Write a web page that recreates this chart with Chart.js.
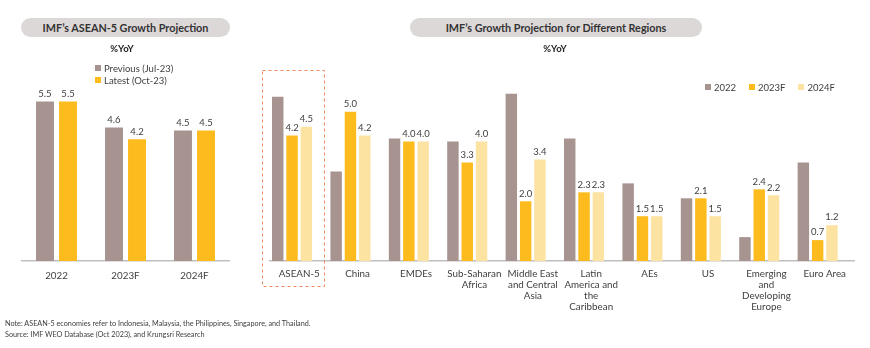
<!DOCTYPE html>
<html><head><meta charset="utf-8">
<script src="https://cdn.jsdelivr.net/npm/chart.js@4"></script>
<style>
html,body{margin:0;padding:0;background:#fff;}
body{width:870px;height:348px;position:relative;overflow:hidden;font-family:Lato,"Noto Sans",sans-serif;color:#404040;}
.pill{position:absolute;height:19px;line-height:19px;background:#DDD8D8;border-radius:10px;text-align:center;font-weight:bold;font-size:10.8px;color:#333;z-index:2;}
.unit{position:absolute;font-weight:bold;font-size:9.5px;color:#222;transform:translateX(-50%);z-index:2;}
.leg{position:absolute;font-size:9.5px;color:#404040;white-space:nowrap;z-index:2;}
.leg i{display:inline-block;width:6px;height:6px;margin-right:3px;vertical-align:1px;}
.note{position:absolute;left:5px;font-size:7.25px;color:#404040;white-space:nowrap;z-index:2;}
.cv{position:absolute;top:0;height:348px;z-index:1;}
</style></head>
<body>
<div class="pill" style="left:21px;top:18px;width:209px;">IMF’s ASEAN-5 Growth Projection</div>
<div class="unit" style="left:122px;top:43px;">%YoY</div>
<div class="pill" style="left:410px;top:18px;width:292px;">IMF’s Growth Projection for Different Regions</div>
<div class="unit" style="left:555px;top:43px;">%YoY</div>

<div class="leg" style="left:95px;top:63px;"><i style="background:#A79390"></i>Previous (Jul-23)</div>
<div class="leg" style="left:95px;top:75px;"><i style="background:#FDBB1E"></i>Latest (Oct-23)</div>

<div class="leg" style="left:705px;top:82px;"><i style="background:#A79390"></i>2022<span style="display:inline-block;width:13px"></span><i style="background:#FDBB1E"></i>2023F<span style="display:inline-block;width:13px"></span><i style="background:#FDE3A2"></i>2024F</div>

<div class="cv" style="left:0;width:245px;"><canvas id="c1"></canvas></div>
<div class="cv" style="left:245px;width:625px;"><canvas id="c2"></canvas></div>

<div class="note" style="top:319px;">Note: ASEAN-5 economies refer to Indonesia, Malaysia, the Philippines, Singapore, and Thailand.</div>
<div class="note" style="top:330px;">Source: IMF WEO Database (Oct 2023), and Krungsri Research</div>

<script>
// ---- Data ----
const aseanYears = ["2022", "2023F", "2024F"];
const aseanPrevious = [5.5, 4.6, 4.5];
const aseanLatest = [5.5, 4.2, 4.5];

const regions = [
  "ASEAN-5",
  "China",
  "EMDEs",
  ["Sub-Saharan", "Africa"],
  ["Middle East", "and Central", "Asia"],
  ["Latin", "America and", "the", "Caribbean"],
  "AEs",
  "US",
  ["Emerging", "and", "Developing", "Europe"],
  "Euro Area"
];
const growth2022 = [5.5, 3.0, 4.1, 4.0, 5.6, 4.1, 2.6, 2.1, 0.8, 3.3];
const growth2023F = [4.2, 5.0, 4.0, 3.3, 2.0, 2.3, 1.5, 2.1, 2.4, 0.7];
const growth2024F = [4.5, 4.2, 4.0, 4.0, 3.4, 2.3, 1.5, 1.5, 2.2, 1.2];

const C_GREY = "#A79390", C_AMBER = "#FDBB1E", C_LIGHT = "#FDE3A2";
const FONT = "Lato, 'Noto Sans', sans-serif";

const valueLabels = {
  id: "valueLabels",
  afterDatasetsDraw(chart) {
    const ctx = chart.ctx;
    ctx.save();
    ctx.font = "9.5px " + FONT;
    ctx.fillStyle = "#404040";
    ctx.textAlign = "center";
    ctx.textBaseline = "bottom";
    chart.data.datasets.forEach((ds, i) => {
      if (!ds.showLabels) return;
      chart.getDatasetMeta(i).data.forEach((bar, j) => {
        ctx.fillText(ds.data[j].toFixed(1), bar.x, bar.y - 3);
      });
    });
    ctx.restore();
  }
};

const highlightBox = {
  id: "highlightBox",
  afterDraw(chart) {
    const x = chart.scales.x, y = chart.scales.y;
    const cx = x.getPixelForValue(0);
    const half = (x.getPixelForValue(1) - cx) / 2;
    const ctx = chart.ctx;
    ctx.save();
    ctx.strokeStyle = "#E9895C";
    ctx.lineWidth = 1;
    ctx.setLineDash([3, 3]);
    const left = Math.round(cx - half - 8) + 0.5, right = Math.round(cx + half - 4) + 0.5;
    const top = Math.round(y.getPixelForValue(6.4)) + 0.5, bottom = Math.round(chart.chartArea.bottom + 25) + 0.5;
    ctx.strokeRect(left, top, right - left, bottom - top);
    ctx.restore();
  }
};

function xScale(h, pad) {
  return {
    grid: { display: false, drawTicks: false },
    border: { display: true, color: "#BFBFBF", width: 1.5 },
    ticks: { color: "#404040", font: { family: FONT, size: 9.8, lineHeight: 1.12 }, padding: pad, maxRotation: 0, autoSkip: false },
    afterFit: s => { s.height = h; }
  };
}

new Chart(document.getElementById("c1"), {
  type: "bar",
  data: {
    labels: aseanYears,
    datasets: [
      { label: "Previous (Jul-23)", data: aseanPrevious, backgroundColor: C_GREY, showLabels: true },
      { label: "Latest (Oct-23)", data: aseanLatest, backgroundColor: C_AMBER, showLabels: true }
    ]
  },
  options: {
    responsive: true, maintainAspectRatio: false, animation: false,
    categoryPercentage: 0.667, barPercentage: 0.78,
    layout: { padding: { left: 22, right: 16, top: 72.5, bottom: 0 } },
    plugins: { legend: { display: false }, tooltip: { enabled: false } },
    scales: {
      x: xScale(87, 9),
      y: { display: false, min: 0, max: 6.5 }
    }
  },
  plugins: [valueLabels]
});

new Chart(document.getElementById("c2"), {
  type: "bar",
  data: {
    labels: regions,
    datasets: [
      { label: "2022", data: growth2022, backgroundColor: C_GREY, showLabels: false },
      { label: "2023F", data: growth2023F, backgroundColor: C_AMBER, showLabels: true },
      { label: "2024F", data: growth2024F, backgroundColor: C_LIGHT, showLabels: true },
      { label: "", data: [], backgroundColor: "rgba(0,0,0,0)", showLabels: false }
    ]
  },
  options: {
    responsive: true, maintainAspectRatio: false, animation: false,
    categoryPercentage: 0.98, barPercentage: 0.8,
    layout: { padding: { left: 25, right: 16, top: 52, bottom: 0 } },
    plugins: { legend: { display: false }, tooltip: { enabled: false } },
    scales: {
      x: xScale(87, 7),
      y: { display: false, min: 0, max: 7 }
    }
  },
  plugins: [valueLabels, highlightBox]
});
</script>
</body></html>
